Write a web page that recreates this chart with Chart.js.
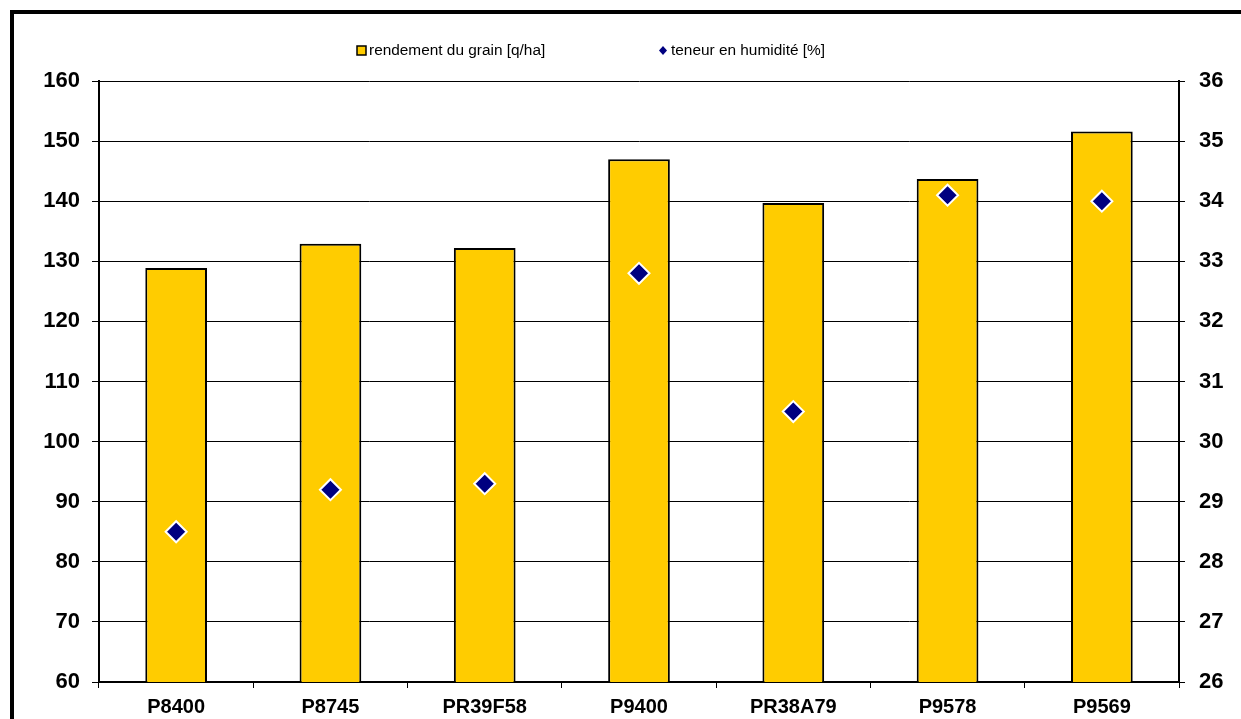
<!DOCTYPE html>
<html>
<head>
<meta charset="utf-8">
<script src="https://cdn.jsdelivr.net/npm/chart.js@4/dist/chart.umd.min.js"></script>
<style>
  html, body { margin: 0; padding: 0; background: #fff; overflow: hidden; }
  #frame { position: absolute; left: 10px; top: 10px; width: 1400px; height: 900px; border: 4px solid #000; box-sizing: border-box; }
  #wrap { position: absolute; left: 0; top: 0; width: 1241px; height: 719px; }
</style>
</head>
<body>
<div id="frame"></div>
<div id="wrap"><canvas id="chart" width="1241" height="719"></canvas></div>
<script>
const hybrids = ["P8400", "P8745", "PR39F58", "P9400", "PR38A79", "P9578", "P9569"];
const rendement = [128.9, 132.9, 132.2, 147.0, 139.7, 143.7, 151.6];
const humidite = [28.5, 29.2, 29.3, 32.8, 30.5, 34.1, 34.0];
const seriesNames = ["rendement du grain [q/ha]", "teneur en humidité [%]"];

const font = "Arial, 'Liberation Sans', sans-serif";

// legend drawn by hand so both entries sit where the original has them
const legendPlugin = {
    id: 'legendMan',
    afterDraw(chart) {
        const ctx = chart.ctx;
        ctx.save();
        ctx.font = "15.4px " + font;
        ctx.textBaseline = 'middle';
        // box
        ctx.fillStyle = '#FFCC00';
        ctx.fillRect(357, 46, 9, 9);
        ctx.strokeStyle = '#000';
        ctx.lineWidth = 1.5;
        ctx.strokeRect(357, 46, 9, 9);
        ctx.fillStyle = '#000';
        ctx.fillText(seriesNames[0], 369, 51);
        // diamond
        ctx.fillStyle = '#000080';
        ctx.beginPath();
        ctx.moveTo(663, 46); ctx.lineTo(667, 50.5); ctx.lineTo(663, 55); ctx.lineTo(659, 50.5);
        ctx.closePath();
        ctx.fill();
        ctx.fillStyle = '#000';
        ctx.fillText(seriesNames[1], 671, 51);
        ctx.restore();
    }
};

new Chart(document.getElementById('chart'), {
    data: {
        labels: hybrids,
        datasets: [{
            type: 'line',
            label: seriesNames[1],
            data: humidite,
            yAxisID: 'y1',
            showLine: false,
            pointStyle: 'rectRot',
            pointRadius: 10.5,
            pointHoverRadius: 10.5,
            pointBackgroundColor: '#000080',
            pointBorderColor: '#fff',
            pointBorderWidth: 2,
            order: 0
        }, {
            type: 'bar',
            label: seriesNames[0],
            data: rendement,
            yAxisID: 'y',
            backgroundColor: '#FFCC00',
            borderColor: '#000',
            borderWidth: 2,
            categoryPercentage: 1,
            barPercentage: 0.4,
            order: 1
        }]
    },
    options: {
        responsive: false,
        animation: false,
        devicePixelRatio: 1,
        layout: { padding: { top: 81, left: 0, right: 0, bottom: 0 } },
        plugins: { legend: { display: false }, tooltip: { enabled: false } },
        scales: {
            x: {
                offset: true,
                grid: { offset: true, drawOnChartArea: false, drawTicks: true, tickLength: 6, color: '#000' },
                border: { color: '#000', width: 2 },
                ticks: { color: '#000', font: { family: font, size: 20, weight: 'bold' }, padding: 7, maxRotation: 0 },
                afterFit(s) { s.height = 37; }
            },
            y: {
                position: 'left',
                min: 60, max: 160,
                ticks: { stepSize: 10, color: '#000', font: { family: font, size: 22, weight: 'bold' }, padding: 12 },
                grid: { color: '#000', lineWidth: 1, tickLength: 7 },
                border: { color: '#000', width: 2 },
                afterFit(s) { s.width = 99; }
            },
            y1: {
                position: 'right',
                min: 26, max: 36,
                ticks: { stepSize: 1, color: '#000', font: { family: font, size: 22, weight: 'bold' }, padding: 14 },
                grid: { drawOnChartArea: false, color: '#000', tickLength: 6 },
                border: { color: '#000', width: 2 },
                afterFit(s) { s.width = 62; }
            }
        }
    },
    plugins: [legendPlugin]
});
</script>
</body>
</html>
